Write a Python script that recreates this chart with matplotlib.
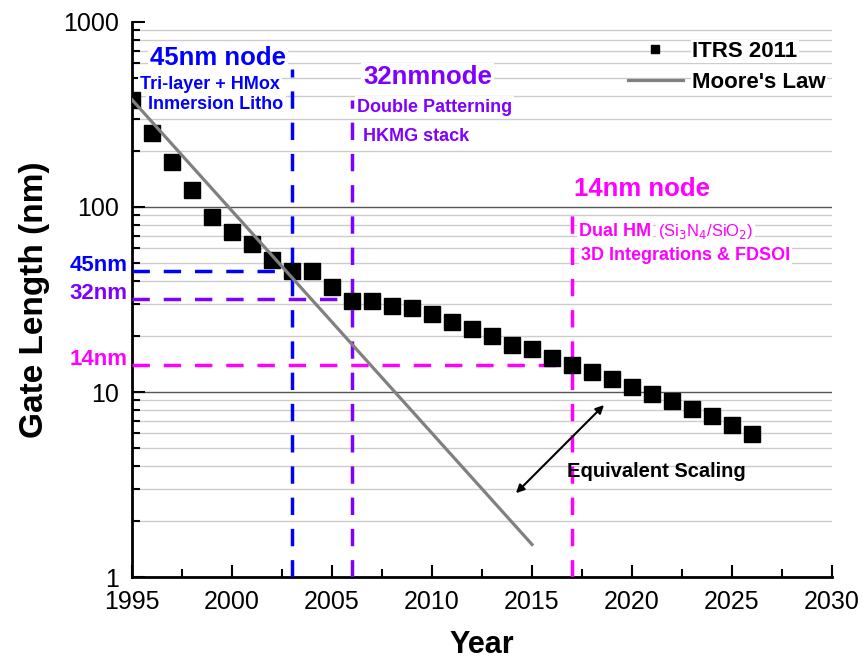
import matplotlib
matplotlib.use('Agg')
import matplotlib.pyplot as plt
import matplotlib.ticker as mticker
import matplotlib.transforms as mtrans

plt.rcParams['font.family'] = ['Liberation Sans', 'DejaVu Sans']

# ITRS 2011 gate length roadmap
years = list(range(1995, 2027))
gate_nm = [380, 251, 176, 124, 88, 73, 63, 52, 45, 45, 37, 31, 31, 29, 28.5,
           26.5, 24, 22, 20, 18, 17, 15.3, 14, 12.8, 11.7, 10.6, 9.7, 8.9,
           8.1, 7.4, 6.6, 5.9]

# Moore's law trend (end points of the straight line in log scale)
moore_years = [1995, 2015]
moore_nm = [380, 1.5]

# technology nodes
node_years = [2003, 2006, 2017]
node_nm = [45, 32, 14]
node_colors = ['#0000ff', '#8000ff', '#ff00ff']
node_labels = ['45nm', '32nm', '14nm']
node_tops = [560, 380, 97]   # where the vertical dashes start

fig = plt.figure(figsize=(8.65, 6.64), dpi=100)
ax = fig.add_axes([0.1526, 0.131, 0.8092, 0.8359])

ax.plot(years, gate_nm, 's', color='black', ms=11.5, zorder=5, label='ITRS 2011')
ax.plot(moore_years, moore_nm, '-', color='#808080', lw=2.3, zorder=6,
        label="Moore's Law")

# dashed node guides
ylab = mtrans.blended_transform_factory(ax.transAxes, ax.transData)
for yr, nm, c, lab, top in zip(node_years, node_nm, node_colors, node_labels, node_tops):
    ax.plot([yr, yr], [1, top], color=c, lw=2.5, dashes=(5, 4), zorder=4)
    ax.plot([1995, yr], [nm, nm], color=c, lw=2.5, dashes=(5, 4), zorder=4)
    ax.text(-0.006, nm, lab, color=c, fontsize=16, fontweight='bold',
            ha='right', va='baseline', transform=ylab, clip_on=False)

wb = dict(facecolor='white', edgecolor='none', pad=1.5)

# 45nm node
ax.text(1999.3, 640, '45nm node', color='#0000ff', fontsize=18.5, fontweight='bold',
        ha='center', va='center', bbox=wb, zorder=3)
ax.text(1998.9, 457, 'Tri-layer + HMox', color='#0000ff', fontsize=13, fontweight='bold',
        ha='center', va='center', bbox=wb, zorder=3)
ax.text(1999.2, 360, 'Inmersion Litho', color='#0000ff', fontsize=13, fontweight='bold',
        ha='center', va='center', bbox=wb, zorder=3)

# 32nm node
ax.text(2009.8, 504, '32nmnode', color='#8000ff', fontsize=18.5, fontweight='bold',
        ha='center', va='center', bbox=wb, zorder=3)
ax.text(2006.25, 347, 'Double Patterning', color='#8000ff', fontsize=13, fontweight='bold',
        ha='left', va='center', bbox=wb, zorder=3)
ax.text(2006.55, 239, 'HKMG stack', color='#8000ff', fontsize=13, fontweight='bold',
        ha='left', va='center', bbox=wb, zorder=3)

# 14nm node
ax.text(2020.5, 125, '14nm node', color='#ff00ff', fontsize=18.5, fontweight='bold',
        ha='center', va='center', bbox=wb, zorder=3)
ax.text(2017.35, 69.5, 'Dual HM', color='#ff00ff', fontsize=13, fontweight='bold',
        ha='left', va='baseline', bbox=wb, zorder=3)
ax.text(2021.3, 69.5, r'(Si$_3$N$_4$/SiO$_2$)', color='#ff00ff', fontsize=12,
        ha='left', va='baseline', bbox=wb, zorder=3)
ax.text(2017.45, 55, '3D Integrations & FDSOI', color='#ff00ff', fontsize=13,
        fontweight='bold', ha='left', va='center', bbox=wb, zorder=3)

# equivalent scaling
ax.annotate('', xy=(2014.2, 2.84), xytext=(2018.6, 8.5),
            arrowprops=dict(arrowstyle='<|-|>', color='black', lw=1.5,
                            mutation_scale=12, shrinkA=0, shrinkB=0), zorder=7)
ax.text(2016.75, 3.7, 'Equivalent Scaling', color='black', fontsize=14.5,
        fontweight='bold', ha='left', va='center', zorder=7)

ax.set_yscale('log')
ax.set_xlim(1995, 2030)
ax.set_ylim(1, 1000)
ax.xaxis.set_major_locator(mticker.MultipleLocator(5))
ax.xaxis.set_minor_locator(mticker.MultipleLocator(2.5))
ax.yaxis.set_major_formatter(mticker.FuncFormatter(lambda v, p: '%g' % v))
ax.yaxis.set_minor_formatter(mticker.NullFormatter())

ax.grid(True, which='major', axis='y', color='#555555', lw=1, zorder=0)
ax.grid(True, which='minor', axis='y', color='#cccccc', lw=1, zorder=0)
ax.set_axisbelow(True)

for s in ['top', 'right']:
    ax.spines[s].set_visible(False)
for s in ['left', 'bottom']:
    ax.spines[s].set_linewidth(2)

ax.tick_params(which='major', direction='in', length=9, width=1.5, labelsize=18, pad=9)
ax.tick_params(which='minor', direction='in', length=6, width=1.5)

ax.set_xlabel('Year', fontsize=22, fontweight='bold', labelpad=12)
ax.set_ylabel('Gate Length (nm)', fontsize=24, fontweight='bold', labelpad=10)

leg = ax.legend(loc='upper right', bbox_to_anchor=(1.018, 1.0),
                prop={'weight': 'bold', 'size': 16}, markerscale=0.55,
                frameon=False, handlelength=2.5, handletextpad=0.4,
                labelspacing=0.45, borderaxespad=0.45)
for t in leg.get_texts():
    t.set_bbox(dict(facecolor='white', edgecolor='none', pad=1))

# no grid line on the top edge
fig.canvas.draw()
for tk in ax.yaxis.get_major_ticks():
    if tk.get_loc() >= 999:
        tk.gridline.set_visible(False)

plt.savefig('out.png', dpi=100)
